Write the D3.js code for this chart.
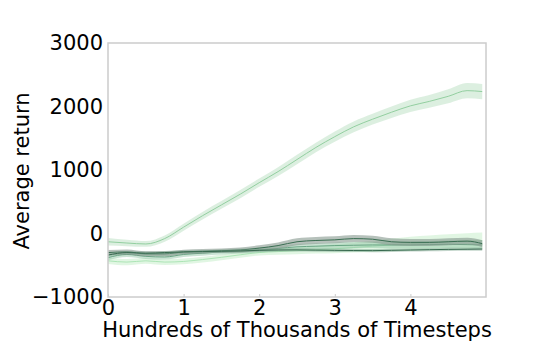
<!DOCTYPE html>
<html><head><meta charset="utf-8">
<script src="https://cdn.jsdelivr.net/npm/d3@7"></script>
<style>body{margin:0;background:#fff}svg{display:block}text{font-family:"DejaVu Sans",sans-serif}</style>
</head><body><svg id="c" width="540" height="360"></svg>
<script>
const steps = [0,0.25,0.5,0.75,1,1.25,1.5,1.75,2,2.25,2.5,2.75,3,3.25,3.5,3.75,4,4.25,4.5,4.75,4.95];
const xTicks = [0,1,2,3,4];
const yTicks = [-1000,0,1000,2000,3000];
const risingMean   = [-130,-150,-165,-80,100,280,450,620,800,975,1165,1355,1525,1680,1800,1910,2010,2080,2160,2250,2235];
const risingSpread = [60,50,45,50,55,60,60,65,65,70,75,75,80,85,85,90,95,100,110,120,120];
const lightMean    = [-430,-450,-430,-450,-440,-410,-375,-335,-300,-285,-270,-255,-240,-220,-200,-180,-160,-145,-130,-120,-110];
const lightSpread  = [50,50,45,45,45,45,45,45,45,50,55,60,70,80,90,100,110,115,120,125,125];
const midMean      = [-380,-330,-360,-370,-330,-310,-290,-275,-260,-235,-210,-200,-190,-185,-180,-180,-180,-175,-170,-175,-180];
const midSpread    = [40,40,40,40,40,40,40,40,40,40,45,45,50,50,50,55,55,55,60,60,60];
const grayMean     = [-300,-290,-320,-320,-290,-280,-270,-260,-230,-190,-130,-110,-100,-80,-90,-130,-140,-140,-130,-120,-160];
const graySpread   = [40,40,40,40,35,35,35,40,45,50,55,55,55,55,55,55,55,55,55,55,55];
const darkMean     = [-340,-300,-310,-300,-290,-285,-280,-275,-265,-260,-258,-262,-265,-268,-270,-265,-260,-255,-250,-248,-245];
const darkSpread   = [25,25,25,25,25,25,25,25,25,25,25,25,25,25,25,25,25,25,25,25,25];

const series = [
  {mean: lightMean,  spread: lightSpread,  line: "#9fe0aa", band: "#c8efcc", bandOp: 0.55, lineOp: 0.8},
  {mean: midMean,    spread: midSpread,    line: "#5f9f7c", band: "#93c8a8", bandOp: 0.5,  lineOp: 0.9},
  {mean: grayMean,   spread: graySpread,   line: "#3a6e52", band: "#86978d", bandOp: 0.6,  lineOp: 1},
  {mean: darkMean,   spread: darkSpread,   line: "#36694e", band: "#7aa28b", bandOp: 0.45, lineOp: 1},
  {mean: risingMean, spread: risingSpread, line: "#93cfa0", band: "#b9dfc1", bandOp: 0.5,  lineOp: 1}
];

const svg = d3.select("#c");
const m = {l:108, t:43, r:486, b:297};
const x = d3.scaleLinear().domain([0,5]).range([m.l, m.r]);
const y = d3.scaleLinear().domain([-1000,3000]).range([m.b, m.t]);

const g = svg.append("g");
series.forEach(s => {
  const pts = steps.map((t,i) => ({x:t, m:s.mean[i], s:s.spread[i]}));
  g.append("path").datum(pts)
    .attr("d", d3.area().curve(d3.curveMonotoneX).x(d=>x(d.x)).y0(d=>y(d.m-d.s)).y1(d=>y(d.m+d.s)))
    .attr("fill", s.band).attr("fill-opacity", s.bandOp);
  g.append("path").datum(pts)
    .attr("d", d3.line().curve(d3.curveMonotoneX).x(d=>x(d.x)).y(d=>y(d.m)))
    .attr("fill","none").attr("stroke", s.line).attr("stroke-width",1).attr("stroke-opacity", s.lineOp);
});

svg.append("rect").attr("x",m.l).attr("y",m.t).attr("width",m.r-m.l).attr("height",m.b-m.t)
  .attr("fill","none").attr("stroke","#cccccc").attr("stroke-width",1.5);

const xa = svg.append("g").attr("transform",`translate(0,${m.b})`)
  .call(d3.axisBottom(x).tickValues(xTicks).tickSize(0).tickPadding(3).tickFormat(d3.format("d")));
xa.select(".domain").remove();
xa.selectAll("text").attr("font-size",21).attr("fill","#000").attr("font-family","DejaVu Sans");
xa.selectAll(".tick").append("line").attr("y1",0).attr("y2",-3).attr("stroke","#cccccc");

const ya = svg.append("g").attr("transform",`translate(${m.l},0)`)
  .call(d3.axisLeft(y).tickValues(yTicks).tickSize(0).tickPadding(5).tickFormat(d => d<0 ? "\u2212"+Math.abs(d) : String(d)));
ya.select(".domain").remove();
ya.selectAll("text").attr("font-size",21).attr("fill","#000").attr("font-family","DejaVu Sans");

svg.append("text").attr("x",(m.l+m.r)/2 + 0).attr("y",337).attr("text-anchor","middle")
  .attr("font-size",21).text("Hundreds of Thousands of Timesteps");
svg.append("text").attr("transform","translate(29,171) rotate(-90)").attr("text-anchor","middle")
  .attr("font-size",21).text("Average return");
</script></body></html>
